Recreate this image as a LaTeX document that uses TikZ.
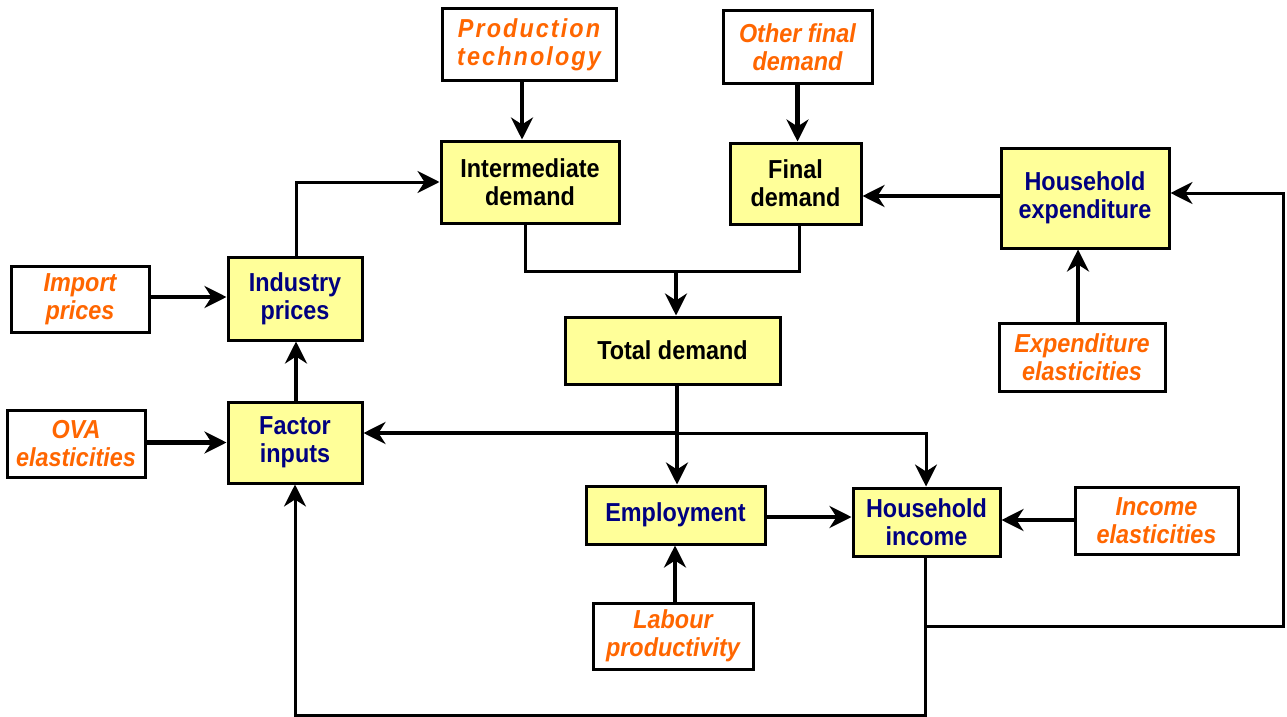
\documentclass[tikz,border=0pt]{standalone}
\usepackage{fontspec}
\setmainfont{Liberation Sans}[FakeStretch=0.9]
\newfontfamily\spacedfont{Liberation Sans}[FakeStretch=0.9,LetterSpace=8]
\usetikzlibrary{arrows.meta}
\definecolor{boxyellow}{HTML}{FFFF99}
\definecolor{navytext}{HTML}{000080}
\definecolor{orangetext}{HTML}{FF6600}
\begin{document}
\begin{tikzpicture}[x=1pt,y=-1pt,
  base/.style={draw=black,line width=3pt,rectangle,align=center,inner sep=0pt,
    font=\fontsize{26}{28}\selectfont\bfseries},
  core/.style={base,fill=boxyellow},
  corenavy/.style={core,text=navytext},
  inp/.style={base,fill=white,text=orangetext,
    font=\fontsize{26}{28}\selectfont\bfseries\itshape},
  tip/.tip={Stealth[length=22pt,width=22pt,inset=7pt]},
  arr/.style={line width=4.5pt,-tip},
  thinarr/.style={line width=3pt,-tip},
  thinline/.style={line width=3pt},
]
\useasboundingbox (0,0) rectangle (1287,717);

% input boxes
\node[inp,minimum width=174pt,minimum height=71pt] (prodtech) at (529,44.5)
  {\spacedfont\bfseries\itshape Production\\\spacedfont\bfseries\itshape technology};
\node[inp,minimum width=149pt,minimum height=72pt] (otherfd) at (797.5,47) {Other final\\demand};
\node[inp,minimum width=138pt,minimum height=66pt] (import) at (80,299) {Import\\prices};
\node[inp,minimum width=138pt,minimum height=67pt] (ova) at (76,443.5) {OVA\\elasticities};
\node[inp,minimum width=166pt,minimum height=68pt] (expel) at (1082,357) {Expenditure\\elasticities};
\node[inp,minimum width=163pt,minimum height=67pt] (incel) at (1156.5,520.5) {Income\\elasticities};
\node[inp,minimum width=160pt,minimum height=66pt] (labour) at (673,636) {Labour\\productivity};

% core boxes
\node[core,minimum width=178pt,minimum height=82pt] (interm) at (530,182) {Intermediate\\demand};
\node[core,minimum width=131pt,minimum height=81pt] (finald) at (795.5,183.5) {Final\\demand};
\node[core,minimum width=215pt,minimum height=67pt] (total) at (672.5,350.5) {Total demand};
\node[corenavy,minimum width=168pt,minimum height=100pt] (hhexp) at (1085,198) {Household\\expenditure};
\node[corenavy,minimum width=134pt,minimum height=83pt] (indpr) at (295,298.5) {Industry\\prices};
\node[corenavy,minimum width=134pt,minimum height=81pt] (factor) at (295,442.5) {Factor\\inputs};
\node[corenavy,minimum width=179pt,minimum height=58pt] (employ) at (675.5,515) {Employment};
\node[corenavy,minimum width=147pt,minimum height=68pt] (hhinc) at (926.5,522) {Household\\income};

% helper coordinates
\coordinate (xprod) at (522,0);
\coordinate (xind) at (296,0);
\coordinate (xtot) at (677,0);
\coordinate (yfd) at (0,196);
\coordinate (ysum) at (0,271);
\coordinate (xint) at (525.5,0);
\coordinate (xfin) at (799.5,0);
\coordinate (join) at (676,271);
\coordinate (tj) at (677,433);
\coordinate (tk) at (926,433);
\coordinate (xinc) at (925,0);
\coordinate (bl) at (925,715);
\coordinate (br) at (295,715);
\coordinate (rj) at (925,626);
\coordinate (rb) at (1283,626);
\coordinate (rt) at (1283,193);
\coordinate (xexp) at (1078,0);
\coordinate (xlab) at (675,0);

% connectors
\draw[arr] (xprod |- prodtech.south) -- (xprod |- interm.north);
\draw[arr] (otherfd.south) -- (otherfd.south |- finald.north);
\draw[arr] (hhexp.west |- yfd) -- (finald.east |- yfd);
\draw[thinline] (xint |- interm.south) -- (xint |- ysum) -- (xfin |- ysum) -- (xfin |- finald.south);
\draw[arr] (join) -- (join |- total.north);
\draw[thinarr] (xind |- indpr.north) -- (xind |- interm.west) -- (interm.west);
\draw[arr] (import.east |- 0,297) -- (indpr.west |- 0,297);
\draw[arr] (xind |- factor.north) -- (xind |- indpr.south);
\draw[arr] (ova.east |- factor.west) -- (factor.west);
\draw[arr] (xtot |- total.south) -- (xtot |- employ.north);
\draw[arr] (tj) -- (factor.east |- tj);
\draw[thinarr] (tj) -- (tk) -- (tk |- hhinc.north);
\draw[arr] (employ.east |- 0,517) -- (hhinc.west |- 0,517);
\draw[arr] (incel.west |- 0,520) -- (hhinc.east |- 0,520);
\draw[arr] (xlab |- labour.north) -- (xlab |- employ.south);
\draw[arr] (xexp |- expel.north) -- (xexp |- hhexp.south);
\draw[thinarr] (xinc |- hhinc.south) -- (bl) -- (br) -- (br |- factor.south);
\draw[thinarr] (rj) -- (rb) -- (rt) -- (hhexp.east |- rt);
\end{tikzpicture}
\end{document}
